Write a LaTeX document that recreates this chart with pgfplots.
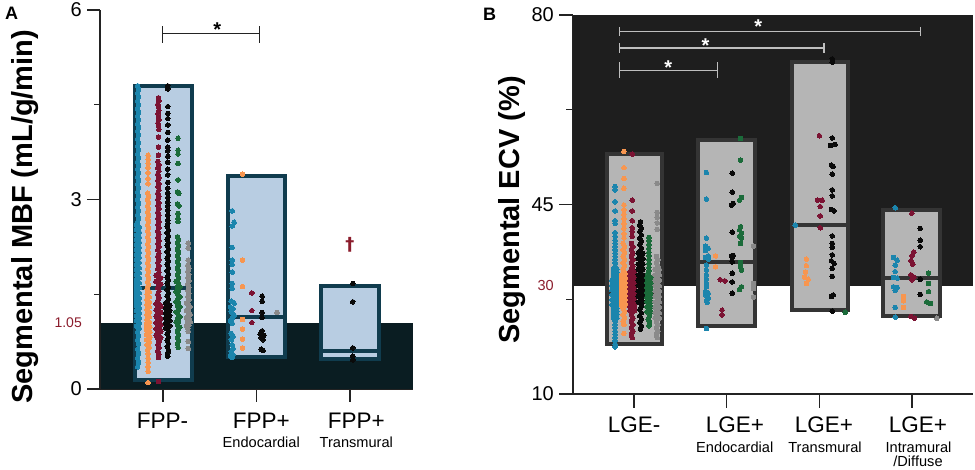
\documentclass[border=0pt]{standalone}
\usepackage{fontspec}
\setmainfont{Liberation Sans}
\newfontfamily\dejavu{DejaVu Sans}
\usepackage{pgfplots}
\pgfplotsset{compat=1.18}
\definecolor{bandA}{RGB}{10,29,34}
\definecolor{boxA}{RGB}{184,205,226}
\definecolor{boxAb}{RGB}{16,60,78}
\definecolor{bandB}{RGB}{30,30,30}
\definecolor{boxB}{RGB}{181,181,181}
\definecolor{boxBb}{RGB}{52,52,52}
\definecolor{cblue}{RGB}{27,133,173}
\definecolor{corange}{RGB}{247,150,80}
\definecolor{cred}{RGB}{123,19,51}
\definecolor{cgreen}{RGB}{27,107,58}
\definecolor{cgray}{RGB}{138,138,138}
\definecolor{cblack}{RGB}{10,10,10}
\definecolor{tickred}{RGB}{139,28,44}
\definecolor{axisgray}{RGB}{35,35,35}
\definecolor{brk}{RGB}{190,190,190}
\pgfplotsset{
  dots/.style={only marks, mark=*, mark size=2.3pt, mark options={line width=0pt}},
  common/.style={scale only axis, clip=false,
    axis x line*=bottom, axis y line*=left,
    axis line style={-, draw=axisgray, line width=1.4pt},
    every outer x axis line/.append style={-},
    every outer y axis line/.append style={-},
    every tick/.append style={draw=axisgray, line width=1.4pt},
    tick align=outside, major tick length=13pt, minor tick length=6pt,
    xticklabels={},
    yticklabel style={font=\fontsize{20}{20}\selectfont, inner sep=0pt, xshift=-5pt},
    /pgf/number format/assume math mode=true},
}
\begin{document}
\begin{tikzpicture}
\path[use as bounding box] (0,0) rectangle (975pt,470pt);
% ================= PANEL A =================
\begin{axis}[common, at={(100pt,81pt)}, anchor=south west, width=313pt, height=379pt,
  xmin=-0.675, xmax=2.675, ymin=0, ymax=6,
  xtick={0,1,2}, ytick={0,3,6}, yticklabels={0,3,6}, minor ytick={1.5,4.5},
  extra y ticks={1.05}, extra y tick labels={1.05},
  extra y tick style={major tick length=0pt, yticklabel style={text=tickred, font=\fontsize{14}{14}\selectfont, xshift=-13pt}}]
\addplot[draw=none, fill=bandA] coordinates {(-0.675,0)(2.675,0)(2.675,1.05)(-0.675,1.05)} -- cycle;
\addplot[fill=boxA, draw=boxAb, line width=4pt] coordinates {(-0.305,0.15)(0.305,0.15)(0.305,4.80)(-0.305,4.80)} -- cycle;
\addplot[fill=boxA, draw=boxAb, line width=4pt] coordinates {(0.69,0.50)(1.31,0.50)(1.31,3.37)(0.69,3.37)} -- cycle;
\addplot[fill=boxA, draw=boxAb, line width=4pt] coordinates {(1.69,0.48)(2.31,0.48)(2.31,1.63)(1.69,1.63)} -- cycle;
\addplot[draw=boxAb, line width=4pt] coordinates {(-0.305,1.60)(0.305,1.60)};
\addplot[draw=boxAb, line width=4pt] coordinates {(0.69,1.14)(1.31,1.14)};
\addplot[draw=boxAb, line width=4pt] coordinates {(1.69,0.60)(2.31,0.60)};
% FPP- orange
\addplot[dots, corange] coordinates {(-0.16,3.70)(-0.16,3.64)(-0.16,3.57)(-0.16,3.50)(-0.16,3.42)(-0.16,3.33)(-0.16,3.25)
(-0.165,3.10)(-0.155,3.05)(-0.165,3.00)(-0.155,2.95)(-0.165,2.90)(-0.155,2.85)(-0.165,2.80)(-0.155,2.75)(-0.165,2.70)(-0.155,2.65)(-0.165,2.60)(-0.155,2.55)(-0.165,2.50)(-0.155,2.45)(-0.165,2.40)(-0.155,2.35)(-0.165,2.30)(-0.155,2.25)(-0.165,2.20)(-0.155,2.15)(-0.165,2.10)(-0.155,2.05)(-0.165,2.00)(-0.155,1.95)(-0.165,1.90)(-0.155,1.85)(-0.165,1.80)(-0.155,1.75)(-0.165,1.70)(-0.155,1.65)(-0.165,1.62)
(-0.172,1.58)(-0.148,1.54)(-0.172,1.50)(-0.148,1.46)(-0.172,1.42)(-0.148,1.38)(-0.172,1.34)(-0.148,1.30)(-0.172,1.26)(-0.148,1.22)(-0.172,1.18)(-0.148,1.14)(-0.172,1.10)(-0.148,1.06)(-0.178,1.02)(-0.142,0.98)(-0.178,0.94)(-0.142,0.90)(-0.178,0.86)(-0.142,0.82)(-0.178,0.78)(-0.148,0.74)(-0.172,0.70)(-0.148,0.66)(-0.165,0.62)
(-0.16,0.96)(-0.16,0.88)(-0.16,0.80)(-0.16,1.20)(-0.16,1.36)
(-0.16,0.56)(-0.16,0.49)(-0.16,0.42)(-0.16,0.35)(-0.16,0.28)(-0.16,0.10)};
% FPP- red
\addplot[dots, cred] coordinates {(-0.05,4.61)(-0.045,4.56)(-0.055,4.51)(-0.05,4.46)(-0.045,4.41)(-0.055,4.36)(-0.05,4.31)(-0.045,4.26)(-0.055,4.21)(-0.05,4.16)(-0.045,4.11)
(-0.05,3.99)(-0.05,3.83)(-0.05,3.70)
(-0.056,3.60)(-0.044,3.55)(-0.056,3.50)(-0.044,3.45)(-0.056,3.40)(-0.044,3.35)(-0.056,3.30)(-0.044,3.25)(-0.056,3.20)(-0.044,3.15)(-0.056,3.10)(-0.044,3.05)(-0.056,3.00)(-0.044,2.95)(-0.056,2.90)(-0.044,2.85)(-0.056,2.80)(-0.044,2.75)(-0.056,2.70)(-0.044,2.65)(-0.056,2.60)(-0.044,2.55)(-0.056,2.50)(-0.044,2.45)(-0.056,2.40)(-0.044,2.35)(-0.056,2.30)(-0.044,2.25)(-0.056,2.20)(-0.044,2.15)(-0.056,2.10)(-0.044,2.05)(-0.056,2.00)(-0.044,1.95)(-0.056,1.90)(-0.044,1.85)(-0.056,1.80)(-0.044,1.75)(-0.056,1.70)(-0.044,1.65)(-0.056,1.60)(-0.044,1.55)(-0.056,1.50)(-0.044,1.45)(-0.056,1.40)(-0.044,1.35)(-0.056,1.30)(-0.044,1.25)(-0.056,1.20)(-0.044,1.15)(-0.056,1.10)(-0.044,1.05)(-0.056,1.00)(-0.044,0.95)(-0.056,0.90)(-0.044,0.85)(-0.056,0.80)(-0.044,0.75)(-0.056,0.70)(-0.044,0.65)(-0.056,0.60)(-0.044,0.55)(-0.05,0.50)
(-0.075,1.80)(-0.025,1.76)(-0.075,1.70)(-0.025,1.66)(-0.075,1.35)(-0.025,1.31)(-0.075,1.25)(-0.025,1.21)(-0.075,1.15)(-0.025,1.11)(-0.075,1.05)(-0.025,1.01)(-0.075,0.95)(-0.025,0.91)(-0.075,0.85)(-0.025,0.81)
(-0.05,0.12)};
% FPP- black
\addplot[dots, cblack] coordinates {(0.05,4.80)(0.05,4.75)(0.05,4.47)(0.05,4.36)(0.05,4.28)(0.05,4.18)(0.05,4.06)(0.05,3.94)(0.05,3.83)(0.05,3.77)(0.05,3.68)(0.05,3.59)(0.05,3.48)(0.05,3.39)(0.05,3.27)(0.05,3.18)(0.05,3.10)(0.05,3.03)(0.05,2.96)(0.05,2.90)(0.05,2.83)(0.05,2.75)(0.05,2.67)(0.05,2.62)
(0.044,2.57)(0.056,2.52)(0.044,2.47)(0.056,2.42)(0.044,2.37)(0.056,2.32)(0.044,2.27)(0.056,2.22)(0.044,2.17)(0.056,2.12)(0.044,2.07)(0.056,2.02)(0.044,1.97)(0.056,1.92)(0.044,1.87)(0.056,1.82)(0.044,1.77)(0.056,1.72)(0.044,1.67)(0.056,1.62)(0.044,1.57)(0.056,1.52)(0.044,1.47)(0.056,1.42)(0.044,1.37)(0.056,1.32)(0.044,1.27)(0.056,1.22)(0.044,1.17)(0.056,1.12)(0.044,1.07)(0.056,1.02)(0.044,0.97)(0.056,0.92)(0.044,0.87)(0.056,0.82)(0.044,0.77)(0.056,0.72)(0.044,0.67)(0.056,0.62)(0.05,0.57)
(0.028,1.36)(0.072,1.32)(0.028,1.28)(0.072,1.24)(0.028,1.20)(0.072,1.16)(0.028,1.12)(0.072,1.08)(0.028,1.04)(0.072,1.00)(0.028,0.96)(0.05,0.52)};
% FPP- green
\addplot[dots, cgreen] coordinates {(0.16,3.97)(0.16,3.78)(0.16,3.72)(0.16,3.57)(0.16,3.31)(0.155,3.12)(0.17,3.10)(0.155,2.93)(0.17,2.90)(0.16,2.78)(0.16,2.70)(0.16,2.65)
(0.155,2.41)(0.165,2.36)(0.155,2.31)(0.165,2.26)(0.155,2.21)(0.165,2.16)(0.155,2.11)(0.165,2.06)(0.155,2.01)(0.165,1.96)(0.155,1.91)(0.165,1.86)(0.155,1.81)(0.165,1.76)(0.155,1.71)(0.165,1.66)(0.155,1.61)(0.165,1.56)(0.155,1.51)(0.165,1.46)(0.155,1.41)(0.165,1.36)(0.155,1.31)(0.165,1.26)(0.155,1.21)(0.165,1.16)(0.155,1.11)(0.165,1.06)(0.155,1.01)(0.165,0.96)(0.155,0.91)(0.165,0.86)(0.155,0.81)(0.165,0.76)(0.155,0.71)(0.16,0.66)
(0.14,1.70)(0.18,1.62)(0.14,1.54)(0.18,1.46)(0.14,1.38)(0.18,1.30)(0.14,1.22)(0.18,1.14)(0.14,1.06)(0.18,0.98)};
% FPP- gray
\addplot[dots, cgray] coordinates {(0.27,2.31)(0.27,2.23)(0.27,2.04)
(0.265,1.96)(0.275,1.91)(0.265,1.86)(0.275,1.81)(0.265,1.76)(0.275,1.71)(0.265,1.66)(0.275,1.61)(0.265,1.56)(0.275,1.51)(0.265,1.46)(0.275,1.41)(0.265,1.36)(0.275,1.31)(0.265,1.26)(0.275,1.21)(0.265,1.16)(0.275,1.11)(0.265,1.06)(0.275,1.01)(0.265,0.96)(0.27,0.91)
(0.25,1.36)(0.29,1.30)(0.25,1.24)(0.29,1.18)(0.25,1.12)(0.29,1.06)(0.25,1.00)(0.27,0.75)(0.27,0.64)};
% FPP- blue
\addplot[dots, cblue] coordinates {(-0.272,4.80)(-0.262,4.74)(-0.272,4.68)(-0.262,4.62)(-0.272,4.56)(-0.262,4.50)(-0.272,4.44)(-0.262,4.38)(-0.272,4.32)(-0.262,4.26)(-0.272,4.20)(-0.262,4.14)(-0.272,4.08)(-0.262,4.02)(-0.272,3.96)(-0.262,3.90)(-0.272,3.84)(-0.262,3.78)(-0.272,3.72)(-0.262,3.66)(-0.272,3.60)(-0.262,3.54)(-0.272,3.48)(-0.262,3.42)(-0.272,3.36)(-0.262,3.30)(-0.272,3.24)(-0.262,3.18)(-0.272,3.12)(-0.262,3.06)(-0.272,3.00)(-0.262,2.94)(-0.272,2.88)(-0.262,2.82)(-0.272,2.76)(-0.262,2.70)(-0.272,2.64)
(-0.285,2.60)(-0.255,2.56)(-0.285,2.52)(-0.255,2.48)(-0.285,2.44)(-0.255,2.40)(-0.285,2.36)(-0.255,2.32)(-0.285,2.28)(-0.255,2.24)(-0.285,2.20)(-0.255,2.16)(-0.285,2.12)(-0.255,2.08)(-0.285,2.04)(-0.255,2.00)(-0.285,1.96)(-0.255,1.92)(-0.285,1.88)(-0.255,1.84)(-0.285,1.80)(-0.255,1.76)(-0.285,1.72)(-0.255,1.68)(-0.285,1.64)(-0.255,1.60)(-0.285,1.56)(-0.255,1.52)(-0.285,1.48)(-0.255,1.44)(-0.285,1.40)(-0.255,1.36)(-0.285,1.32)(-0.255,1.28)(-0.285,1.24)(-0.255,1.20)(-0.285,1.16)(-0.255,1.12)(-0.285,1.08)(-0.255,1.04)(-0.285,1.00)(-0.255,0.96)
(-0.27,2.58)(-0.27,2.42)(-0.27,2.26)(-0.27,2.10)(-0.27,1.94)(-0.27,1.78)(-0.27,1.62)(-0.27,1.46)(-0.27,1.30)(-0.27,1.14)(-0.27,0.98)
(-0.272,0.90)(-0.262,0.84)(-0.272,0.78)(-0.262,0.71)(-0.272,0.63)(-0.262,0.56)(-0.272,0.49)(-0.262,0.42)(-0.272,0.35)};
% FPP+ endocardial
\addplot[dots, cblue] coordinates {(0.74,2.82)(0.76,2.64)(0.74,2.58)(0.74,2.24)(0.74,2.04)(0.74,1.97)(0.74,1.85)(0.74,1.67)(0.74,1.59)(0.73,1.39)(0.76,1.36)(0.72,1.30)(0.75,1.27)(0.73,1.22)(0.76,1.17)(0.74,1.12)(0.72,1.08)(0.74,1.04)(0.73,0.88)(0.75,0.83)(0.73,0.78)(0.74,0.70)(0.75,0.64)(0.73,0.59)(0.75,0.54)(0.74,0.50)(0.72,0.52)};
\addplot[dots, corange] coordinates {(0.85,3.40)(0.85,2.04)(0.85,1.62)(0.85,1.10)(0.85,0.95)(0.85,0.79)(0.85,0.65)};
\addplot[dots, cred] coordinates {(0.95,1.52)(0.95,1.24)(0.95,1.05)};
\addplot[dots, cblack] coordinates {(1.06,1.47)(1.06,1.39)(1.06,1.21)(1.06,1.13)(1.06,0.92)(1.04,0.87)(1.08,0.85)(1.05,0.81)(1.07,0.78)(1.05,0.63)(1.07,0.61)};
\addplot[dots, cgray] coordinates {(1.22,1.21)};
% FPP+ transmural
\addplot[dots, cblack] coordinates {(2.03,1.67)(2.03,1.38)(2.03,0.65)(2.03,0.52)(2.03,0.46)};
% annotations
\draw[axisgray, line width=1.2pt] (axis cs:-0.01,5.63) -- (axis cs:1.03,5.63);
\draw[axisgray, line width=1.2pt] (axis cs:-0.01,5.74) -- (axis cs:-0.01,5.48);
\draw[axisgray, line width=1.2pt] (axis cs:1.03,5.74) -- (axis cs:1.03,5.48);
\node[anchor=base, inner sep=0pt, font=\bfseries\fontsize{20}{20}\selectfont] at (axis cs:0.58,5.58) {*};
\node[anchor=base, inner sep=0pt, text=tickred, font=\dejavu\bfseries\fontsize{18}{18}\selectfont] at (axis cs:2.0,2.20) {†};
\end{axis}
% ================= PANEL B =================
\begin{axis}[common, at={(573pt,76pt)}, anchor=south west, width=400pt, height=379pt,
  xmin=-0.66, xmax=3.66, ymin=10, ymax=80,
  major tick length=14pt, minor tick length=7pt,
  xtick={0,1,2,3}, ytick={10,45,80}, yticklabels={10,45,80}, minor ytick={27.5,62.5},
  extra y ticks={30}, extra y tick labels={30},
  extra y tick style={major tick length=0pt, yticklabel style={text=tickred, font=\fontsize{14.5}{14.5}\selectfont, xshift=-14pt}}]
\addplot[draw=none, fill=bandB] coordinates {(-0.66,30)(3.66,30)(3.66,80)(-0.66,80)} -- cycle;
\addplot[fill=boxB, draw=boxBb, line width=4pt] coordinates {(-0.295,19.2)(0.305,19.2)(0.305,54.4)(-0.295,54.4)} -- cycle;
\addplot[fill=boxB, draw=boxBb, line width=4pt] coordinates {(0.695,22.5)(1.31,22.5)(1.31,56.9)(0.695,56.9)} -- cycle;
\addplot[fill=boxB, draw=boxBb, line width=4pt] coordinates {(1.71,25.6)(2.31,25.6)(2.31,71.4)(1.71,71.4)} -- cycle;
\addplot[fill=boxB, draw=boxBb, line width=4pt] coordinates {(2.69,24.4)(3.30,24.4)(3.30,43.9)(2.69,43.9)} -- cycle;
\addplot[draw=boxBb, line width=4pt] coordinates {(-0.295,28.6)(0.305,28.6)};
\addplot[draw=boxBb, line width=4pt] coordinates {(0.695,34.4)(1.31,34.4)};
\addplot[draw=boxBb, line width=4pt] coordinates {(1.71,41.2)(2.31,41.2)};
\addplot[draw=boxBb, line width=4pt] coordinates {(2.69,31.4)(3.30,31.4)};
% LGE- blue
\addplot[dots, cblue] coordinates {(-0.205,48.3)(-0.205,47.7)(-0.205,45.5)(-0.205,43.8)(-0.205,42.0)(-0.205,41.5)(-0.205,39.8)(-0.205,39.1)(-0.205,38.4)(-0.205,37.8)
(-0.205,37.2)(-0.205,36.6)(-0.205,36.0)(-0.205,35.4)(-0.205,34.8)(-0.205,34.2)(-0.205,33.6)
(-0.222,33.0)(-0.222,32.4)(-0.222,31.8)(-0.222,31.2)(-0.222,30.6)(-0.222,30.0)(-0.222,29.4)(-0.222,28.8)(-0.222,28.2)(-0.222,27.6)(-0.222,27.0)(-0.222,26.4)(-0.222,25.8)(-0.222,25.2)(-0.222,24.6)(-0.222,24.0)
(-0.188,33.0)(-0.188,32.4)(-0.188,31.8)(-0.188,31.2)(-0.188,30.6)(-0.188,30.0)(-0.188,29.4)(-0.188,28.8)(-0.188,28.2)(-0.188,27.6)(-0.188,27.0)(-0.188,26.4)(-0.188,25.8)(-0.188,25.2)(-0.188,24.6)(-0.188,24.0)
(-0.24,31.0)(-0.24,30.1)(-0.24,29.2)(-0.24,28.3)(-0.24,27.4)(-0.24,26.5)(-0.17,31.0)(-0.17,30.1)(-0.17,29.2)(-0.17,28.3)(-0.17,27.4)(-0.17,26.5)
(-0.205,23.4)(-0.205,22.8)(-0.205,22.2)(-0.205,21.6)(-0.205,21.0)(-0.205,20.4)(-0.205,19.8)(-0.205,19.2)(-0.205,18.7)};
% LGE- orange
\addplot[dots, corange] coordinates {(-0.11,54.8)(-0.11,51.8)(-0.11,49.8)(-0.11,48.0)(-0.11,44.9)(-0.11,44.0)(-0.11,43.2)(-0.11,42.4)(-0.11,41.5)(-0.11,40.6)(-0.11,39.6)(-0.11,38.8)
(-0.118,37.8)(-0.102,37.2)(-0.118,36.6)(-0.102,36.0)(-0.118,35.4)(-0.102,34.8)(-0.118,34.2)(-0.102,33.6)(-0.118,33.0)(-0.102,32.4)(-0.118,31.8)(-0.102,31.2)(-0.118,30.6)(-0.102,30.0)(-0.118,29.4)(-0.102,28.8)(-0.118,28.2)(-0.102,27.6)(-0.118,27.0)(-0.102,26.4)(-0.118,25.8)(-0.102,25.2)(-0.118,24.6)(-0.102,24.0)(-0.118,23.4)(-0.11,22.8)
(-0.138,32.0)(-0.138,31.2)(-0.138,30.4)(-0.138,29.6)(-0.138,28.8)(-0.138,28.0)(-0.138,27.2)(-0.138,26.4)
(-0.082,32.0)(-0.082,31.2)(-0.082,30.4)(-0.082,29.6)(-0.082,28.8)(-0.082,28.0)(-0.082,27.2)(-0.082,26.4)(-0.11,21.2)};
% LGE- red
\addplot[dots, cred] coordinates {(-0.02,54.3)(-0.02,45.8)(-0.02,43.8)(-0.02,42.0)(-0.02,40.7)(-0.02,40.0)(-0.02,39.1)
(-0.028,37.8)(-0.012,37.2)(-0.028,36.6)(-0.012,36.0)(-0.028,35.4)(-0.012,34.8)(-0.028,34.2)(-0.012,33.6)(-0.028,33.0)(-0.012,32.4)(-0.028,31.8)(-0.012,31.2)(-0.028,30.6)(-0.012,30.0)(-0.028,29.4)(-0.012,28.8)(-0.028,28.2)(-0.012,27.6)(-0.028,27.0)(-0.012,26.4)(-0.028,25.8)(-0.012,25.2)(-0.028,24.6)(-0.012,24.0)(-0.028,23.4)(-0.012,22.8)(-0.028,22.2)(-0.012,21.6)(-0.028,21.0)(-0.02,20.4)
(-0.045,32.6)(-0.045,31.8)(-0.045,31.0)(-0.045,30.2)(-0.045,29.4)(-0.045,28.6)(-0.045,27.8)(-0.045,27.0)(-0.045,26.2)(-0.045,25.4)
(0.005,32.6)(0.005,31.8)(0.005,31.0)(0.005,30.2)(0.005,29.4)(0.005,28.6)(0.005,27.8)(0.005,27.0)(0.005,26.2)(0.005,25.4)};
% LGE- black
\addplot[dots, cblack] coordinates {(0.07,41.8)
(0.062,41.2)(0.078,40.6)(0.062,40.0)(0.078,39.4)(0.062,38.8)(0.078,38.2)(0.062,37.6)(0.078,37.0)(0.062,36.4)(0.078,35.8)(0.062,35.2)(0.078,34.6)(0.062,34.0)(0.078,33.4)(0.062,32.8)(0.078,32.2)(0.062,31.6)(0.078,31.0)(0.062,30.4)(0.078,29.8)(0.062,29.2)(0.078,28.6)(0.062,28.0)(0.078,27.4)(0.062,26.8)(0.078,26.2)(0.062,25.6)(0.078,25.0)(0.062,24.4)(0.078,23.8)(0.062,23.2)(0.078,22.6)(0.07,22.0)
(0.045,36.0)(0.045,35.0)(0.045,34.0)(0.045,33.0)(0.045,32.0)(0.045,31.0)(0.045,30.0)(0.045,29.0)(0.045,28.0)(0.045,27.0)
(0.095,36.0)(0.095,35.0)(0.095,34.0)(0.095,33.0)(0.095,32.0)(0.095,31.0)(0.095,30.0)(0.095,29.0)(0.095,28.0)(0.095,27.0)};
% LGE- green
\addplot[dots, cgreen] coordinates {(0.16,38.9)(0.16,38.3)(0.16,37.6)(0.16,36.9)(0.16,36.2)(0.16,35.5)(0.16,34.8)(0.16,34.1)(0.16,33.4)(0.16,32.8)
(0.152,32.2)(0.168,31.6)(0.152,31.0)(0.168,30.4)(0.152,29.8)(0.168,29.2)(0.152,28.6)(0.168,28.0)(0.152,27.4)(0.168,26.8)(0.152,26.2)(0.168,25.6)(0.152,25.0)(0.168,24.4)(0.152,23.8)(0.168,23.2)(0.16,22.6)
(0.138,31.5)(0.138,30.6)(0.138,29.7)(0.138,28.8)(0.138,27.9)(0.138,27.0)(0.138,26.1)(0.138,25.2)
(0.182,31.5)(0.182,30.6)(0.182,29.7)(0.182,28.8)(0.182,27.9)(0.182,27.0)(0.182,26.1)(0.182,25.2)};
% LGE- gray
\addplot[dots, cgray] coordinates {(0.25,48.9)(0.25,43.5)(0.25,42.6)(0.25,41.6)(0.25,40.4)
(0.242,35.4)(0.258,34.8)(0.242,34.2)(0.258,33.6)(0.242,33.0)(0.258,32.4)(0.242,31.8)(0.258,31.2)(0.242,30.6)(0.258,30.0)(0.242,29.4)(0.258,28.8)(0.242,28.2)(0.258,27.6)(0.242,27.0)(0.258,26.4)(0.242,25.8)(0.258,25.2)(0.242,24.6)(0.258,24.0)(0.242,23.4)(0.258,22.8)(0.242,22.2)(0.258,21.6)(0.242,21.0)(0.25,20.4)
(0.228,33.0)(0.228,32.0)(0.228,31.0)(0.228,30.0)(0.228,29.0)(0.228,28.0)(0.228,27.0)(0.228,26.0)(0.228,25.0)(0.228,24.0)
(0.272,33.0)(0.272,32.0)(0.272,31.0)(0.272,30.0)(0.272,29.0)(0.272,28.0)(0.272,27.0)(0.272,26.0)(0.272,25.0)(0.272,24.0)};
% LGE+ endocardial
\addplot[dots, cblue] coordinates {(0.78,50.9)(0.78,46.0)(0.78,38.8)(0.77,37.3)(0.80,36.9)(0.77,36.5)(0.80,35.5)(0.77,35.2)(0.80,34.9)(0.78,33.8)(0.78,32.9)(0.78,32.0)(0.78,31.2)(0.78,30.4)(0.78,29.8)(0.77,28.9)(0.80,28.6)(0.77,28.3)(0.80,27.7)(0.78,27.2)(0.79,26.9)(0.78,22.1)};
\addplot[dots, corange] coordinates {(0.88,35.5)(0.88,33.5)};
\addplot[dots, cred] coordinates {(0.93,31.1)(0.98,30.9)(0.95,25.5)(0.95,24.6)};
\addplot[dots, cblack] coordinates {(1.06,50.8)(1.06,47.3)(1.07,45.2)(1.05,44.9)(1.06,39.9)(1.05,35.5)(1.07,35.6)(1.06,35.2)(1.06,34.4)(1.06,32.3)(1.06,30.7)(1.06,28.6)};
\addplot[dots, cgreen] coordinates {(1.15,57.2)(1.15,53.2)(1.16,46.3)(1.14,45.8)(1.15,40.9)(1.14,40.3)(1.16,39.7)(1.14,39.1)(1.16,38.8)(1.15,37.8)(1.15,34.3)(1.15,33.5)(1.16,32.9)(1.16,29.8)(1.14,29.3)};
\addplot[dots, cgray] coordinates {(1.29,37.3)(1.29,30.4)(1.29,29.5)(1.29,27.9)};
% LGE+ transmural
\addplot[dots, cblack] coordinates {(2.14,71.9)(2.14,71.3)(2.14,57.3)(2.12,55.9)(2.17,56.1)(2.13,52.3)(2.15,52.0)(2.14,50.6)(2.14,47.7)(2.14,46.6)(2.13,44.1)(2.16,43.8)(2.14,39.2)(2.14,37.8)(2.14,37.1)(2.14,35.7)(2.13,34.6)(2.16,34.1)(2.14,33.2)(2.14,31.7)(2.15,28.3)(2.13,28.0)(2.14,25.3)};
\addplot[dots, cred] coordinates {(2.00,57.7)(1.98,45.8)(2.03,45.8)(2.01,44.6)(2.01,42.9)(2.01,40.7)};
\addplot[dots, cblue] coordinates {(1.74,41.2)};
\addplot[dots, corange] coordinates {(1.86,34.9)(1.86,33.7)(1.85,32.5)(1.84,31.6)(1.88,31.2)(1.86,30.4)};
\addplot[dots, cgreen] coordinates {(2.28,25.1)};
% LGE+ intramural/diffuse
\addplot[dots, cblue] coordinates {(2.82,44.4)(2.80,35.2)(2.84,34.7)(2.82,33.8)(2.82,32.6)(2.80,31.5)(2.84,31.4)(2.80,29.8)(2.84,29.7)(2.82,29.1)(2.82,26.0)(2.82,24.2)};
\addplot[dots, corange] coordinates {(2.91,28.0)(2.91,27.2)(2.91,26.0)};
\addplot[dots, cred] coordinates {(3.00,43.4)(3.02,36.2)(3.00,35.5)(2.99,34.6)(3.01,34.0)(2.99,32.0)(3.02,31.6)(3.00,31.1)(2.99,24.3)(3.03,24.0)};
\addplot[dots, cblack] coordinates {(3.09,40.6)(3.09,38.4)(3.09,37.2)(3.09,31.2)(3.09,28.4)};
\addplot[dots, cgreen] coordinates {(3.18,32.3)(3.18,30.4)(3.18,28.9)(3.16,27.0)(3.20,26.7)};
\addplot[dots, cgray] coordinates {(3.27,24.0)};
% brackets
\draw[brk, line width=1.2pt] (axis cs:-0.16,69.8) -- (axis cs:0.90,69.8);
\draw[brk, line width=1.2pt] (axis cs:-0.16,71.3) -- (axis cs:-0.16,68.4);
\draw[brk, line width=1.2pt] (axis cs:0.90,71.3) -- (axis cs:0.90,68.4);
\draw[brk, line width=1.2pt] (axis cs:-0.16,73.9) -- (axis cs:2.05,73.9);
\draw[brk, line width=1.2pt] (axis cs:-0.16,74.8) -- (axis cs:-0.16,73.0);
\draw[brk, line width=1.2pt] (axis cs:2.05,74.8) -- (axis cs:2.05,73.0);
\draw[brk, line width=1.2pt] (axis cs:-0.16,76.9) -- (axis cs:3.09,76.9);
\draw[brk, line width=1.2pt] (axis cs:-0.16,77.8) -- (axis cs:-0.16,76.1);
\draw[brk, line width=1.2pt] (axis cs:3.09,77.8) -- (axis cs:3.09,76.1);
\node[anchor=base, inner sep=0pt, text=white, font=\bfseries\fontsize{20}{20}\selectfont] at (axis cs:0.37,69.1) {*};
\node[anchor=base, inner sep=0pt, text=white, font=\bfseries\fontsize{20}{20}\selectfont] at (axis cs:0.77,73.1) {*};
\node[anchor=base, inner sep=0pt, text=white, font=\bfseries\fontsize{20}{20}\selectfont] at (axis cs:1.34,76.5) {*};
\end{axis}
% ================= TICK MARKS at the axis tick positions =================
\begin{scope}[line width=1.4pt]
\draw[axisgray] (87pt,81pt) -- (100pt,81pt);
\draw[axisgray] (87pt,270.5pt) -- (100pt,270.5pt);
\draw[axisgray] (87pt,460pt) -- (100pt,460pt);
\draw[axisgray] (94pt,175.75pt) -- (100pt,175.75pt);
\draw[axisgray] (94pt,365.25pt) -- (100pt,365.25pt);
\draw[axisgray] (163.05pt,81pt) -- (163.05pt,68pt);
\draw[axisgray] (256.5pt,81pt) -- (256.5pt,68pt);
\draw[axisgray] (349.9pt,81pt) -- (349.9pt,68pt);
\draw[axisgray] (100pt,81pt) -- (100pt,460pt);
\draw[axisgray] (559pt,76pt) -- (573pt,76pt);
\draw[axisgray] (559pt,265.5pt) -- (573pt,265.5pt);
\draw[axisgray] (559pt,455pt) -- (573pt,455pt);
\draw[axisgray] (566pt,170.75pt) -- (573pt,170.75pt);
\draw[axisgray] (566pt,360.25pt) -- (573pt,360.25pt);
\draw[axisgray] (634.1pt,76pt) -- (634.1pt,63pt);
\draw[axisgray] (726.7pt,76pt) -- (726.7pt,63pt);
\draw[axisgray] (819.3pt,76pt) -- (819.3pt,63pt);
\draw[axisgray] (911.9pt,76pt) -- (911.9pt,63pt);
\end{scope}
% ================= TEXT =================
\node[anchor=base west, inner sep=0pt, font=\bfseries\fontsize{18}{18}\selectfont] at (5pt,450pt) {A};
\node[anchor=base west, inner sep=0pt, font=\bfseries\fontsize{18}{18}\selectfont] at (483pt,449pt) {B};
\node[rotate=90, anchor=base, inner sep=0pt, font=\bfseries\fontsize{29}{29}\selectfont] at (32pt,253.3pt) {Segmental MBF (mL/g/min)};
\node[rotate=90, anchor=base, inner sep=0pt, font=\bfseries\fontsize{29}{29}\selectfont] at (519pt,260pt) {Segmental ECV (\%)};
\begin{scope}[every node/.style={inner sep=0pt, anchor=base}]
\node[font=\fontsize{22.5}{22.5}\selectfont] at (162.5pt,41.7pt) {FPP-};
\node[font=\fontsize{22.5}{22.5}\selectfont] at (261.3pt,41.7pt) {FPP+};
\node[font=\fontsize{22.5}{22.5}\selectfont] at (356.3pt,41.7pt) {FPP+};
\node[font=\fontsize{14.6}{14.6}\selectfont] at (261.3pt,22.3pt) {Endocardial};
\node[font=\fontsize{14.6}{14.6}\selectfont] at (356.3pt,22.3pt) {Transmural};
\node[font=\fontsize{22.5}{22.5}\selectfont] at (634.2pt,37.7pt) {LGE-};
\node[font=\fontsize{22.5}{22.5}\selectfont] at (735pt,37.7pt) {LGE+};
\node[font=\fontsize{22.5}{22.5}\selectfont] at (824pt,37.7pt) {LGE+};
\node[font=\fontsize{22.5}{22.5}\selectfont] at (918pt,37.7pt) {LGE+};
\node[font=\fontsize{14.6}{14.6}\selectfont] at (734.7pt,17.3pt) {Endocardial};
\node[font=\fontsize{14.6}{14.6}\selectfont] at (825pt,17.3pt) {Transmural};
\node[font=\fontsize{14.6}{14.6}\selectfont] at (918.5pt,17.3pt) {Intramural};
\node[font=\fontsize{14.6}{14.6}\selectfont] at (918pt,3.5pt) {/Diffuse};
\end{scope}
\end{tikzpicture}
\end{document}
